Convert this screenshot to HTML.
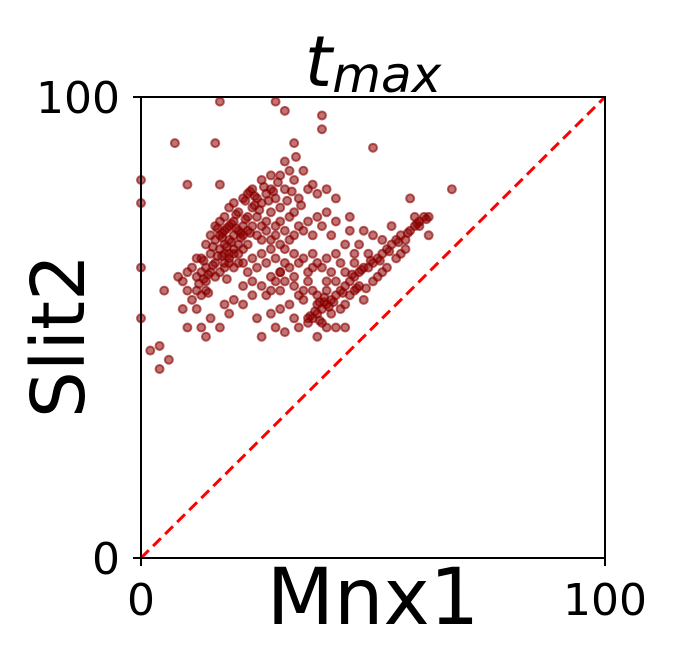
<!DOCTYPE html>
<html><head><meta charset="utf-8"><style>
html,body{margin:0;padding:0;background:#fff;}
svg{display:block;font-family:"DejaVu Sans","Liberation Sans",sans-serif;}
</style></head><body>
<svg id="chart" width="673" height="658" viewBox="0 0 673 658">
<rect width="673" height="658" fill="#fff"/>
<text x="373" y="86" font-size="70" text-anchor="middle" font-style="italic">t<tspan font-size="50" dy="6">max</tspan></text>
<text transform="translate(84,336) rotate(-90)" font-size="74" text-anchor="middle">Slit2</text>
<text x="373" y="624" font-size="78" text-anchor="middle">Mnx1</text>
<g id="points"></g>
<line x1="141" y1="558" x2="605" y2="97" stroke="#ff0000" stroke-width="3" stroke-dasharray="11,6"/>
<rect x="141" y="97" width="464" height="461" fill="none" stroke="#000" stroke-width="2"/>
<g font-size="44" text-anchor="end">
<line x1="133" y1="97" x2="141" y2="97" stroke="#000" stroke-width="2"/>
<line x1="133" y1="558" x2="141" y2="558" stroke="#000" stroke-width="2"/>
<text x="120" y="113">100</text>
<text x="120" y="574">0</text>
</g>
<g font-size="44" text-anchor="middle">
<line x1="141" y1="558" x2="141" y2="566" stroke="#000" stroke-width="2"/>
<line x1="605" y1="558" x2="605" y2="566" stroke="#000" stroke-width="2"/>
<text x="141" y="615">0</text>
<text x="605" y="615">100</text>
</g>
</svg>
<script>
const xValues=[17,29,31,39,39,7.3,16,50,33,33.4,0,0,0,0,10,17,67,58,62,2,4,4,6,5,26,
17,18,19,20,21,18,19,20,22,17,16,18,21,19,20,22,23,17,15,16,
14,13,12,14,15,13,11,10,12,16,17,18,19,14,13,12,10,9,8,11,
22,23,24,25,26,27,28,29,30,31,24,26,28,30,32,33,31,35,36,37,38,40,42,34,33,
25,26,27,28,29,30,31,32,33,34,35,36,37,38,39,40,41,42,44,45,
22,23,24,25,26,27,28,29,30,31,32,33,34,35,36,37,38,39,40,41,42,43,44,46,24,26,28,30,27,22,
12,15,17,13,14,10,9,18,20,22,24,19,25,30,32,33,29,31,34,28,35,37,38,36,40,
36,37,38,39,40,41,42,43,44,45,46,47,48,49,50,51,52,53,54,55,56,57,58,59,60,61,62,60,59,
38,40,42,44,45,46,47,48,50,51,52,53,55,56,57,49,46,43,41,39,40,38,42,44,47,50,52,54,48,45,
36,35,34,33,31,30,29,28,33,37,21,20,19,23,18,21,15,14,16,20,25,26,27,24,23,28,29,30,31,32,
17.5,18.5,19.5,20.5,21.5,17.5,18.5,19.5,20.5,21.5,16.5,22.5,23.5,24.5,25.5,19,20,21,22,18,
13.5,14.5,15.5,16.5,12.5,13.5,14.5,15.5,17.5,18.5,22.5,23.5,24.5,26.5,27.5,28.5,29.5,31.5,32.5,34.5,
36.5,37.5,38.5,39.5,40.5,45.5,47.5,49.5,51.5,53.5,55.5,57.5,59.5,61.5,38.5,39.5,41.5,43.5,46.5,48.5];
const yValues=[99,99,97,96,93,90,90,89,90,87,82,77,63,52,81,81,80,78,70,45,46,41,43,58,48,
70,71,72,70,71,68,69,73,72,73,69,74,68,66,67,70,71,67,66,64,
63,62,61,60,62,65,63,62,65,61,62,63,64,58,57,58,58,60,61,56,
78,79,80,78,77,79,80,78,76,80,76,82,83,83,84,82,86,84,80,81,79,80,78,78,75,
74,72,73,75,72,73,71,74,70,72,71,73,70,74,72,75,70,73,68,71,
64,62,65,63,66,64,67,65,62,64,63,66,64,65,62,66,64,63,65,62,66,64,62,64,60,59,61,58,57,59,
54,52,50,50,48,50,54,55,56,55,57,53,52,54,55,52,50,49,50,53,56,58,55,52,58,
51,52,53,54,55,56,57,58,59,60,61,62,63,63,64,65,66,67,68,69,70,69,71,72,73,74,74,72,74,
57,60,60,55,57,58,59,56,60,61,62,63,65,66,67,66,66,54,53,51,50,48,50,50,68,70,69,72,71,74,
60,58,57,59,60,62,60,58,61,63,75,77,76,74,66,66,70,68,72,63,70,69,71,72,68,69,70,68,67,69,
70.5,71.5,72.5,71.5,70.5,69.5,67.5,68.5,74.5,69.5,71.5,73.5,70.5,76.5,75.5,65,66,64,67,64,
64.5,61.5,63.5,65.5,59.5,60.5,57.5,67.5,65.5,60.5,77.5,79.5,78.5,80.5,77.5,79.5,81.5,77.5,79.5,76.5,
52.5,53.5,55.5,56.5,54.5,61.5,62.5,64.5,64.5,66.5,68.5,70.5,72.5,73.5,51.5,55.5,55.5,57.5,58.5,58.5];
const X0=141,X1=605,Y0=558,Y1=97;
function xScale(v){return X0+(X1-X0)*v/100;}
function yScale(v){return Y0-(Y0-Y1)*v/100;}
const g=document.getElementById('points');
const NS='http://www.w3.org/2000/svg';
for(let i=0;i<xValues.length;i++){
  const c=document.createElementNS(NS,'circle');
  c.setAttribute('cx',xScale(xValues[i]));
  c.setAttribute('cy',yScale(yValues[i]));
  c.setAttribute('r',4);
  c.setAttribute('fill','rgba(139,0,0,0.55)');
  c.setAttribute('stroke','rgba(139,0,0,0.6)');
  c.setAttribute('stroke-width','2');
  
  
  g.appendChild(c);
}
</script>
</body></html>
